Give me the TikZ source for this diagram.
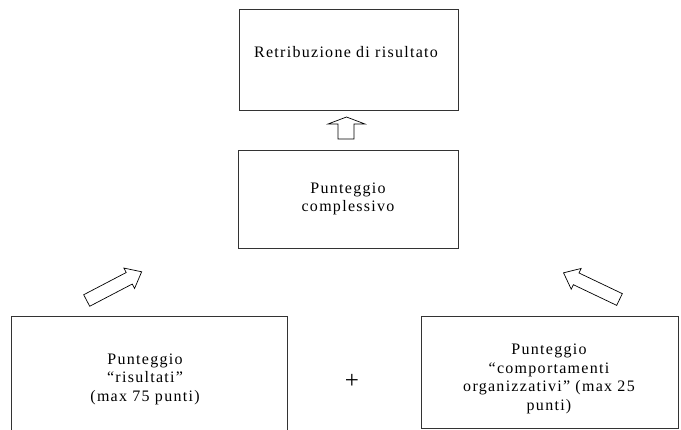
\documentclass[tikz,border=0pt]{standalone}
\usepackage{fontspec}
\setmainfont{Liberation Serif}[LetterSpace=8]
\begin{document}
\begin{tikzpicture}[x=1pt,y=-1pt,
  box/.style={draw=black!80,line width=0.8pt,inner sep=0pt},
  txt/.style={align=center,font=\fontsize{16}{18.5}\selectfont,inner sep=0pt},
  blockarrow/.style={draw=black,line width=0.7pt,fill=white,line join=miter}]
\useasboundingbox (0,0) rectangle (681,429);
\clip (0,0) rectangle (681,429);
% boxes
\node[box,minimum width=219pt,minimum height=101pt] (top) at (348.5,59.5) {};
\node[box,minimum width=220pt,minimum height=98pt] (mid) at (348,199) {};
\node[box,minimum width=276pt,minimum height=124pt] (left) at (149,378) {};
\node[box,minimum width=257pt,minimum height=112pt] (right) at (549.5,372) {};
% texts
\node[txt] (toptxt) at (346,52) {Retribuzione di risultato};
\node[txt] (midtxt) at (348,199) {Punteggio\\complessivo};
\node[txt] (lefttxt) at (145,379) {Punteggio\\“risultati”\\(max 75 punti)};
\node[txt] (righttxt) at (549,379) {Punteggio\\“comportamenti\\organizzativi” (max 25\\punti)};
\node[txt,font=\fontsize{25}{25}\selectfont] (plus) at (352,381) {+};
% up block arrow
\draw[blockarrow] (338,139) -- (338,124) -- (328,124) -- (346.5,117) -- (365,124) -- (354,124) -- (354,139) -- cycle;
% left diagonal block arrow
\begin{scope}[shift={(86.7,300.5)},rotate=27.6]
\draw[blockarrow] (0,-6.5) -- (48,-6.5) -- (48,-11.5) -- (62,0) -- (48,11.5) -- (48,6.5) -- (0,6.5) -- cycle;
\end{scope}
% right diagonal block arrow
\begin{scope}[shift={(619.5,299.5)},rotate=154.5]
\draw[blockarrow] (0,-6.5) -- (48,-6.5) -- (48,-11.5) -- (62,0) -- (48,11.5) -- (48,6.5) -- (0,6.5) -- cycle;
\end{scope}
\end{tikzpicture}
\end{document}
